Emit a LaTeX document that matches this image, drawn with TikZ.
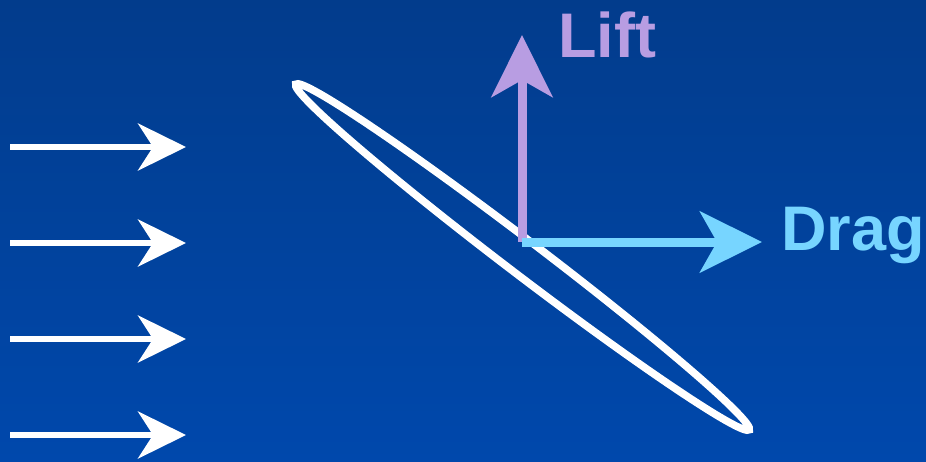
\documentclass[tikz,border=0pt]{standalone}
\usepackage{fontspec}
\usepackage{tikz}
\usetikzlibrary{arrows.meta,positioning}
\newfontfamily\labelfont{Liberation Sans}
\definecolor{bgtop}{RGB}{2,60,140}
\definecolor{bgbot}{RGB}{0,72,172}
\definecolor{liftcol}{RGB}{184,157,226}
\definecolor{dragcol}{RGB}{119,213,255}
\tikzset{
    flow/.style={white,line width=6pt,-{Stealth[length=48pt,width=47pt,inset=15pt]}},
    force/.style={line width=9pt,-{Stealth[length=62pt,width=61pt,inset=17pt]}},
    forcelabel/.style={anchor=base west,inner sep=0pt,font=\labelfont\bfseries\fontsize{63}{70}\selectfont}
}
\begin{document}
\begin{tikzpicture}[x=1pt,y=-1pt]
\useasboundingbox (0,0) rectangle (926,461);
\shade[top color=bgtop,bottom color=bgbot] (0,0) rectangle (926,461);
% oncoming air
\foreach \y [count=\i] in {147,243,339,435}
{
    \coordinate (in\i) at (10,\y);
    \coordinate (out\i) at (186,\y);
    \draw[flow] (in\i) -- (out\i);
}
% plate
\coordinate (plate) at (522.5,257);
\draw[white,line width=7.5pt,rotate around={-37.3:(plate)}] (plate) ellipse [x radius=285,y radius=17];
% forces
\coordinate (o) at (522,242);
\coordinate (liftTip) at (522,35);
\coordinate (dragTip) at (762,242);
\draw[force,liftcol] (o) -- (liftTip);
\draw[force,dragcol] (o) -- (dragTip);
\node[forcelabel,text=liftcol] (lift) at (558,57) {Lift};
\node[forcelabel,text=dragcol] (drag) at (781,250) {Drag};
\end{tikzpicture}
\end{document}
